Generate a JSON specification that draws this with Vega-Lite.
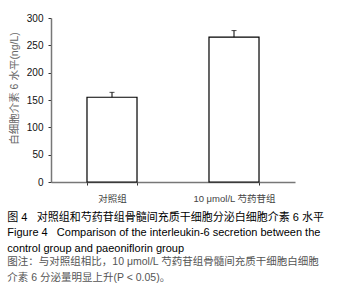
{
  "$schema": "https://vega.github.io/schema/vega-lite/v6.json",
  "width": 244,
  "height": 164,
  "autosize": "none",
  "padding": {"left": 51, "top": 18, "right": 42, "bottom": 115},
  "background": "white",
  "config": {
    "font": "Liberation Sans, Noto Sans CJK SC",
    "view": {"stroke": null}
  },
  "title": {
    "text": ["图 4\u00a0\u00a0\u00a0对照组和芍药苷组骨髓间充质干细胞分泌白细胞介素 6 水平", "Figure 4\u00a0\u00a0\u00a0Comparison of the interleukin-6 secretion between the", "control group and paeoniflorin group"],
    "subtitle": ["图注：与对照组相比，10 μmol/L 芍药苷组骨髓间充质干细胞白细胞", "介素 6 分泌量明显上升(P < 0.05)。"],
    "orient": "bottom",
    "anchor": "start",
    "frame": "bounds",
    "dx": -2,
    "offset": 9,
    "fontSize": 11,
    "fontWeight": "normal",
    "color": "#000",
    "lineHeight": 15.5,
    "subtitleFontSize": 10.5,
    "subtitleColor": "#555",
    "subtitleLineHeight": 16,
    "subtitlePadding": 3
  },
  "data": {
    "values": [
      {"group": "对照组", "value": 155, "upper": 164},
      {"group": "10 μmol/L 芍药苷组", "value": 265, "upper": 277}
    ]
  },
  "encoding": {
    "x": {
      "field": "group",
      "type": "nominal",
      "sort": null,
      "scale": {"paddingInner": 0.59, "paddingOuter": 0.295},
      "axis": {
        "title": null,
        "labelAngle": 0,
        "labelFontSize": 9.5,
        "labelColor": "#444",
        "labelPadding": 8,
        "tickBand": "extent",
        "tickSize": 3,
        "tickColor": "#333",
        "domainColor": "#777",
        "domainWidth": 1.5
      }
    },
    "y": {
      "field": "value",
      "type": "quantitative",
      "scale": {"domain": [0, 300], "nice": false},
      "axis": {
        "title": "白细胞介素 6 水平(ng/L)",
        "titleFontSize": 10.5,
        "titleFontWeight": "normal",
        "titleColor": "#666",
        "titlePadding": 7,
        "titleY": 70,
        "values": [0, 50, 100, 150, 200, 250, 300],
        "labelOverlap": false,
        "grid": false,
        "labelFontSize": 10,
        "labelColor": "#111",
        "tickSize": 3,
        "tickColor": "#333",
        "domainColor": "#777",
        "domainWidth": 1.5,
        "labelPadding": 5
      }
    }
  },
  "layer": [
    {
      "mark": {"type": "bar", "fill": "white", "stroke": "black", "strokeWidth": 1.2}
    },
    {
      "mark": {"type": "rule", "color": "black", "strokeWidth": 1},
      "encoding": {
        "y2": {"field": "upper"}
      }
    },
    {
      "mark": {"type": "tick", "color": "black", "thickness": 1, "size": 5},
      "encoding": {
        "y": {"field": "upper", "type": "quantitative", "title": "白细胞介素 6 水平(ng/L)"}
      }
    }
  ]
}
